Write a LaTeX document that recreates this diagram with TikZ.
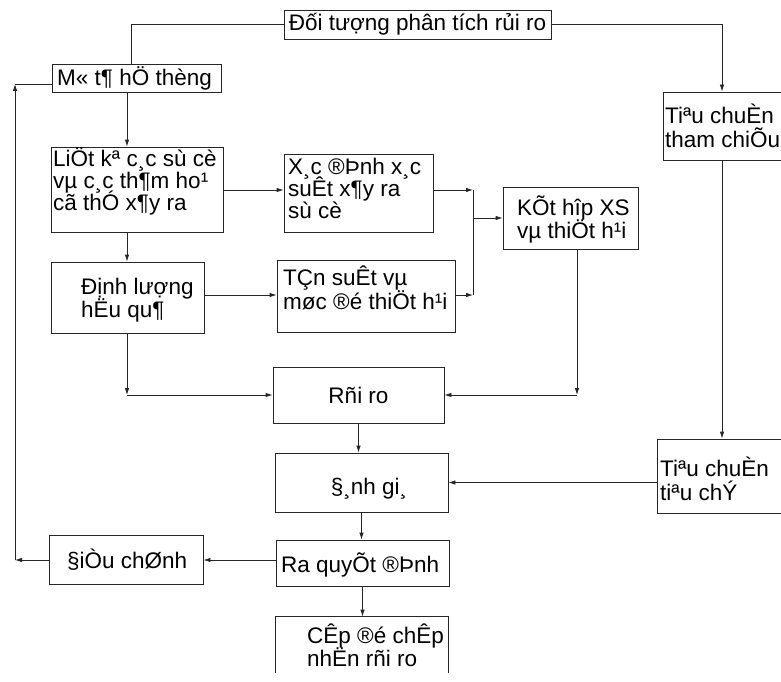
\documentclass[tikz,border=0pt]{standalone}
\usepackage{fontspec}
\setmainfont{Liberation Sans}
\usetikzlibrary{arrows.meta}
\begin{document}
\begin{tikzpicture}[x=1pt,y=-1pt,
  box/.style={draw=black!85, line width=0.8pt, rectangle, inner sep=0pt},
  txt/.style={inner sep=0pt, font=\fontsize{22.5}{24}\selectfont, text=black},
  arr/.style={line width=0.8pt, draw=black!85, -{Latex[length=7pt,width=4.5pt]}},
  ln/.style={line width=0.8pt, draw=black!85}]
\useasboundingbox (0,0) rectangle (781,682);
\clip (0,0) rectangle (781,682);
\fill[white] (0,0) rectangle (781,682);

% boxes
\node[box, minimum width=267, minimum height=29] (A) at (417.5,24.5) {};
\node[box, minimum width=169, minimum height=28] (M) at (136.5,78) {};
\node[box, minimum width=172, minimum height=85] (L) at (137,189.5) {};
\node[box, minimum width=149, minimum height=78] (X) at (358.5,193) {};
\node[box, minimum width=135, minimum height=62] (K) at (570.5,218) {};
\node[box, minimum width=153, minimum height=71] (D) at (127.5,297.5) {};
\node[box, minimum width=178, minimum height=72] (T) at (366,296) {};
\node[box, minimum width=171, minimum height=56] (R) at (358.5,395) {};
\node[box, minimum width=173, minimum height=59] (S) at (361.5,482.5) {};
\node[box, minimum width=173, minimum height=46] (Q) at (362.5,563) {};
\node[box, minimum width=154, minimum height=49] (E) at (126,559.5) {};
\node[box, draw=none, minimum width=172, minimum height=56] (C) at (362,645) {};
\draw[ln] (C.south west) -- (C.north west) -- (C.north east) -- (C.south east);
\node[box, minimum width=157, minimum height=68] (TC) at (741.5,126) {};
\node[box, minimum width=163, minimum height=74] (TC2) at (738.5,476) {};

% texts
\node[txt, anchor=base] (At) at (417.5,31) {Đối tượng phân tích rủi ro};
\node[txt, anchor=base west] (Mt) at (57,86) {M« t¶ hÖ thèng};
\node[txt, anchor=base west] (L1) at (53,166) {LiÖt kª c¸c sù cè};
\node[txt, anchor=base west] (L2) at (53,188) {vµ c¸c th¶m ho¹};
\node[txt, anchor=base west] (L3) at (53,210) {cã thÓ x¶y ra};
\node[txt, anchor=base west] (X1) at (288,174) {X¸c ®Þnh x¸c};
\node[txt, anchor=base west] (X2) at (288,196) {suÊt x¶y ra};
\node[txt, anchor=base west] (X3) at (288,218) {sù cè};
\node[txt, anchor=base west] (K1) at (517,215) {KÕt hîp XS};
\node[txt, anchor=base west] (K2) at (517,238) {vµ thiÖt h¹i};
\node[txt, anchor=base west] (D1) at (81,294) {Định lượng};
\node[txt, anchor=base west] (D2) at (81,317) {hËu qu¶};
\node[txt, anchor=base west] (T1) at (283,285) {TÇn suÊt vµ};
\node[txt, anchor=base west] (T2) at (283,309) {møc ®é thiÖt h¹i};
\node[txt, anchor=base] (Rt) at (358.5,403) {Rñi ro};
\node[txt, anchor=base] (St) at (369,494) {§¸nh gi¸};
\node[txt, anchor=base west] (Qt) at (281,572) {Ra quyÕt ®Þnh};
\node[txt, anchor=base west] (Et) at (67,568) {§iÒu chØnh};
\node[txt, anchor=base west] (C1) at (307,643) {CÊp ®é chÊp};
\node[txt, anchor=base west] (C2) at (307,666) {nhËn rñi ro};
\node[txt, anchor=base west] (TC1) at (665,124) {Tiªu chuÈn};
\node[txt, anchor=base west] (TCb) at (665,147) {tham chiÕu};
\node[txt, anchor=base west] (TD1) at (660,476) {Tiªu chuÈn};
\node[txt, anchor=base west] (TD2) at (660,500) {tiªu chÝ};

% helper coordinates
\coordinate (colA) at (131,0);
\coordinate (colL) at (127,0);
\coordinate (colF) at (15,0);
\coordinate (busX) at (473,0);
\coordinate (colK) at (577,0);
\coordinate (colT) at (722,0);
\coordinate (rowM) at (0,84);
\coordinate (rowLX) at (0,190);
\coordinate (rowDT) at (0,295);
\coordinate (rowE) at (0,560);

% connectors
\draw[ln] (A.west) -| (M.north -| colA);
\draw[arr] (A.east) -| (TC.north -| colT);
\draw[arr] (M.south -| colL) -- (L.north -| colL);
\draw[arr] (L.east |- rowLX) -- (X.west |- rowLX);
\draw[arr] (L.south -| colL) -- (D.north -| colL);
\draw[arr] (X.east |- rowLX) -- (busX |- rowLX);
\draw[arr] (D.east |- rowDT) -- (T.west |- rowDT);
\draw[arr] (T.east |- rowDT) -- (busX |- rowDT);
\draw[ln] (busX |- rowLX) -- (busX |- rowDT);
\draw[arr] (busX |- K.west) -- (K.west);
\draw[arr] (K.south -| colK) -- (colK |- R.east);
\draw[arr] (colK |- R.east) -- (R.east);
\draw[arr] (D.south -| colL) -- (colL |- R.west);
\draw[arr] (colL |- R.west) -- (R.west);
\draw[arr] (R.south) -- (R.south |- S.north);
\draw[arr] (S.south) -- (S.south |- Q.north);
\draw[arr] (Q.south) -- (Q.south |- C.north);
\draw[arr] (Q.west |- rowE) -- (E.east |- rowE);
\draw[arr] (E.west |- rowE) -- (colF |- rowE);
\draw[arr] (colF |- rowE) -- (colF |- rowM);
\draw[ln] (colF |- rowM) -- (M.west |- rowM);
\draw[arr] (TC.south -| colT) -- (TC2.north -| colT);
\draw[arr] (TC2.west |- S.east) -- (S.east);
\end{tikzpicture}
\end{document}
